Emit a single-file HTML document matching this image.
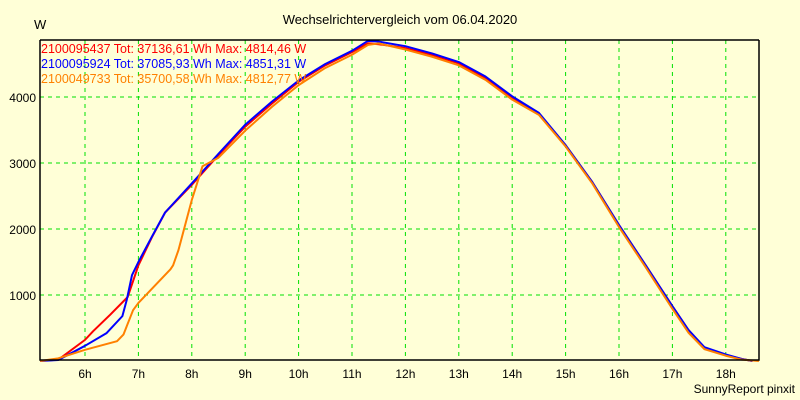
<!DOCTYPE html>
<html><head><meta charset="utf-8"><style>
body{margin:0;background:#FFFFD7;}
svg{display:block;font-family:"Liberation Sans",sans-serif;}
</style></head><body>
<svg id="chart" width="800" height="400" viewBox="0 0 800 400">
<rect width="800" height="400" fill="#FFFFD7"/>
<text x="400" y="24" text-anchor="middle" font-size="13" fill="#000">Wechselrichtervergleich vom 06.04.2020</text>
<text x="34" y="29" font-size="13" fill="#000">W</text>
<g id="grid"></g>
<g id="series"></g>
<g id="axes"></g>
<g font-size="12.5">
<text x="41" y="53" fill="#FF0000">2100095437 Tot: 37136,61 Wh Max: 4814,46 W</text>
<text x="41" y="68" fill="#0000FF">2100095924 Tot: 37085,93 Wh Max: 4851,31 W</text>
<text x="41" y="83" fill="#FF8000">2100049733 Tot: 35700,58 Wh Max: 4812,77 W</text>
</g>
<text x="795" y="393" text-anchor="end" font-size="12" fill="#000">SunnyReport pinxit</text>
</svg>
<script>
const xTicks=[6,7,8,9,10,11,12,13,14,15,16,17,18];
const yTicks=[1000,2000,3000,4000];
const redT=[5.16,5.5,6,6.15,6.47,6.8,7,7.25,7.5,8,8.5,9,9.5,10,10.5,11,11.3,11.5,12,12.5,13,13.5,14,14.5,15,15.5,16,16.5,17,17.3,17.6,18,18.3,18.5];
const redV=[0,20,320,450,700,970,1450,1870,2250,2670,3120,3550,3900,4230,4480,4680,4814,4800,4740,4640,4510,4290,3990,3750,3270,2710,2060,1450,830,470,200,90,30,0];
const blueT=[5.16,5.5,6,6.4,6.7,6.78,6.88,7,7.25,7.5,8,8.5,9,9.5,10,10.5,11,11.3,11.5,12,12.5,13,13.5,14,14.5,15,15.5,16,16.5,17,17.3,17.6,18,18.3,18.5];
const blueV=[0,15,230,420,680,920,1300,1500,1880,2250,2690,3140,3580,3930,4250,4500,4700,4851,4840,4770,4660,4530,4310,4010,3760,3270,2710,2060,1450,830,470,210,100,30,0];
const orangeT=[5.16,5.5,6,6.6,6.72,6.9,7,7.6,7.65,7.75,8,8.2,8.5,9,9.5,10,10.5,11,11.3,11.5,12,12.5,13,13.5,14,14.5,15,15.5,16,16.5,17,17.3,17.6,18,18.3,18.62];
const orangeV=[0,40,170,300,400,770,880,1390,1450,1680,2440,2950,3080,3490,3850,4180,4440,4640,4790,4812,4720,4610,4480,4260,3960,3730,3250,2690,2030,1420,790,430,180,80,20,0];
const L=40,R=759,T=40,B=360;
const x=t=>85+(t-6)*53.4;
const y=v=>361-v*0.066;
const NS="http://www.w3.org/2000/svg";
const grid=document.getElementById('grid'),axes=document.getElementById('axes'),ser=document.getElementById('series');
function mk(tag,attrs,parent){const e=document.createElementNS(NS,tag);for(const k in attrs)e.setAttribute(k,attrs[k]);parent.appendChild(e);return e;}
xTicks.forEach(h=>{
 const l=mk('line',{x1:x(h),x2:x(h),y1:T,y2:B,stroke:'#00E000','stroke-dasharray':'4,4'},grid);
 
 
 const t=mk('text',{x:x(h),y:378,'text-anchor':'middle','font-size':'12',fill:'#000'},axes);
 t.textContent=h+'h';
 
 
});
yTicks.forEach(v=>{
 const l=mk('line',{x1:L,x2:R,y1:y(v),y2:y(v),stroke:'#00E000','stroke-dasharray':'4,4'},grid);
 
 
 const t=mk('text',{x:36,y:y(v)+5,'text-anchor':'end','font-size':'12',fill:'#000'},axes);
 t.textContent=v;
 
 
});
const fr=mk('polyline',{points:`${L},${T} ${L},${B} ${R},${B} ${R},${T}`,fill:'none',stroke:'#000','stroke-width':'1.5'},axes);


const tl=mk('line',{x1:L,x2:R,y1:T,y2:T,stroke:'#000','stroke-width':'1.5'},axes);


function line(ts,vs,col,name){
 const p=mk('polyline',{points:ts.map((t,i)=>x(t)+','+y(vs[i])).join(' '),fill:'none',stroke:col,'stroke-width':'2','stroke-linejoin':'round'},ser);
 
 
}
line(redT,redV,'#FF0000','series-2100095437');
line(blueT,blueV,'#0000FF','series-2100095924');
line(orangeT,orangeV,'#FF8000','series-2100049733');
</script>
</body></html>
